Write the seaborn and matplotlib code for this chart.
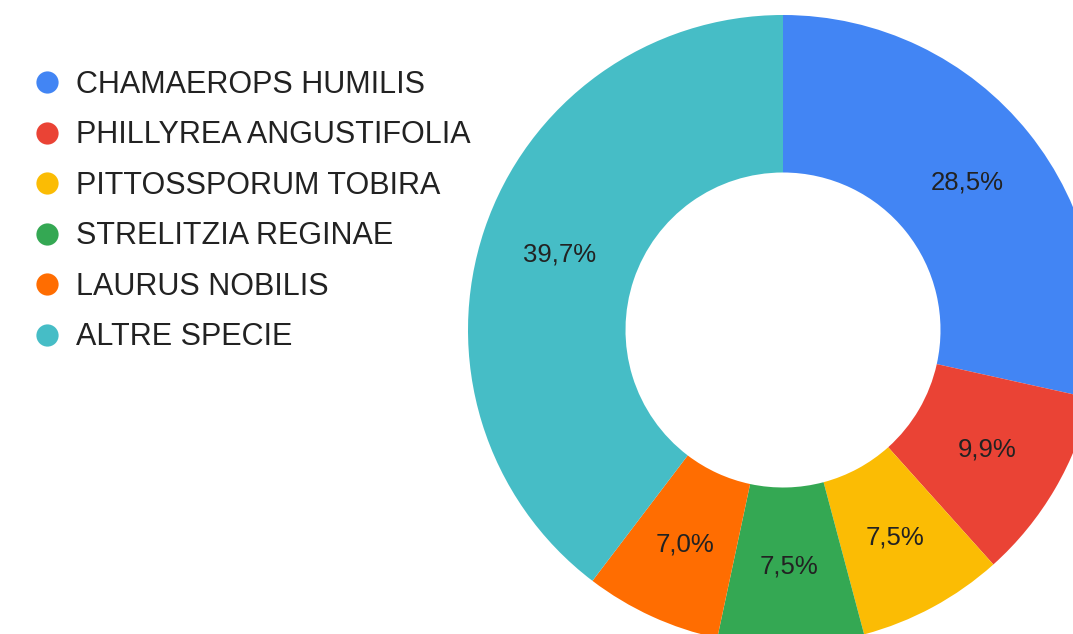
import numpy as np
import seaborn as sns
import matplotlib.pyplot as plt
from matplotlib.lines import Line2D

species = ["CHAMAEROPS HUMILIS", "PHILLYREA ANGUSTIFOLIA", "PITTOSSPORUM TOBIRA",
           "STRELITZIA REGINAE", "LAURUS NOBILIS", "ALTRE SPECIE"]
shares = [28.5, 9.9, 7.5, 7.5, 7.0, 39.7]
colours = ["#4285F4", "#EA4335", "#FBBC04", "#34A853", "#FF6D01", "#46BDC6"]

sns.set_theme(style="white")
plt.rcParams["font.family"] = ["Liberation Sans", "DejaVu Sans"]

W, H = 1073, 634
fig = plt.figure(figsize=(W / 100, H / 100), dpi=100)

# donut centre and radius in pixels (the chart runs off the right and bottom edges)
cx, cy, r = 783, 330, 315
ax = fig.add_axes([(cx - r) / W, (H - cy - r) / H, 2 * r / W, 2 * r / H])

pal = sns.color_palette(colours)
wedges, texts = ax.pie(shares, colors=pal, startangle=90, counterclock=False,
                       radius=1, wedgeprops=dict(width=0.5, edgecolor="none"))
ax.set_xlim(-1, 1)
ax.set_ylim(-1, 1)
ax.set_aspect("equal")
ax.axis("off")

for w, v in zip(wedges, shares):
    ang = np.deg2rad((w.theta1 + w.theta2) / 2)
    ax.text(0.75 * np.cos(ang), 0.75 * np.sin(ang), f"{v:.1f}".replace(".", ",") + "%",
            ha="center", va="center", fontsize=18.5, color="#222222")

handles = [Line2D([], [], marker="o", linestyle="none", markersize=16,
                  markerfacecolor=c, markeredgecolor="none") for c in colours]
fig.legend(handles, species, loc="upper left", bbox_to_anchor=(32 / W, 1 - 70 / H),
           frameon=False, fontsize=22, labelspacing=0.67, handletextpad=0.45,
           handlelength=1.0, labelcolor="#222222", borderaxespad=0, borderpad=0)

fig.savefig("out.png", dpi=100)
